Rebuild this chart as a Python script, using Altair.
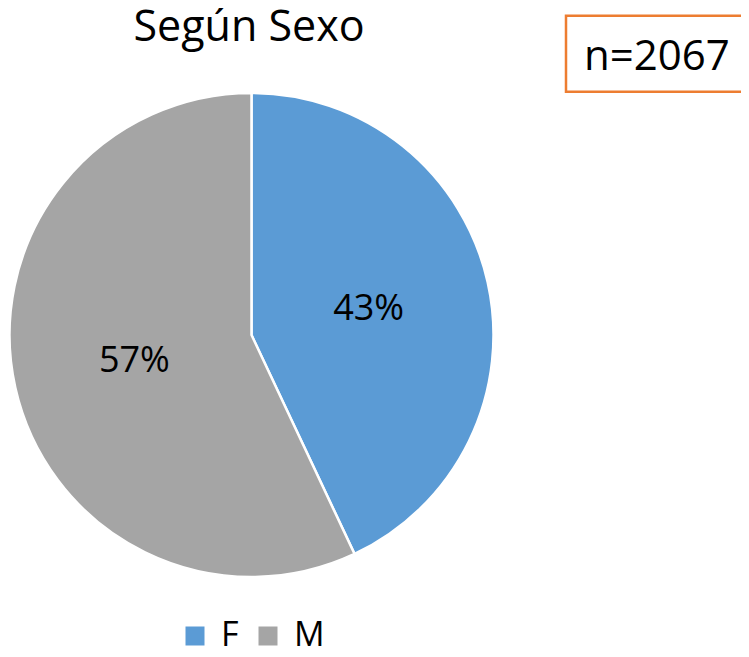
import altair as alt
import pandas as pd

categories = ["F", "M"]
percentages = [43, 57]
labels = ["43%", "57%"]
colors = ["#5B9BD5", "#A5A5A5"]
title_text = "Según Sexo"
n_text = "n=2067"

df = pd.DataFrame({"Sexo": categories, "pct": percentages, "label": labels,
                   "ord": list(range(len(categories)))})

FONT = "Open Sans"
CX, CY, R = 243.5, 327, 242

color_scale = alt.Scale(domain=categories, range=colors)

base = alt.Chart(df).encode(
    theta=alt.Theta("pct:Q", stack=True),
    order=alt.Order("ord:Q"),
)

pie = base.mark_arc(stroke="white", strokeWidth=2.5, outerRadius=R).encode(
    x=alt.value(CX), y=alt.value(CY),
    color=alt.Color("Sexo:N", scale=color_scale, legend=alt.Legend(
        title=None, orient="none", legendX=170, legendY=611, direction="horizontal",
        symbolType="square", symbolSize=361, symbolStrokeWidth=0,
        labelFont=FONT, labelFontSize=34, labelColor="black", labelOffset=9,
        columnPadding=12, labelLimit=200)),
)

pct_text = base.mark_text(radius=120, font=FONT, fontSize=36, color="black",
                          baseline="middle", align="center").encode(
    x=alt.value(CX), y=alt.value(CY),
    text="label:N",
)

title = alt.Chart(pd.DataFrame({"t": [title_text]})).mark_text(
    font=FONT, fontSize=43, color="black", align="center", baseline="alphabetic"
).encode(x=alt.value(241), y=alt.value(33), text="t:N")

box = alt.Chart(pd.DataFrame({"b": [1]})).mark_rect(
    fill="white", stroke="#ED7D31", strokeWidth=2.5
).encode(x=alt.value(558), x2=alt.value(760), y=alt.value(7.7), y2=alt.value(83.7))

ntext = alt.Chart(pd.DataFrame({"t": [n_text]})).mark_text(
    font=FONT, fontSize=42, color="black", align="left", baseline="alphabetic"
).encode(x=alt.value(576), y=alt.value(62), text="t:N")

chart = alt.layer(pie, pct_text, title, box, ntext).properties(
    width=733, height=641, autosize=alt.AutoSizeParams(type="none"), padding=0,
    background="white",
).configure_view(stroke=None)

chart.save("out.html", embed_options={"renderer": "svg", "actions": False})
